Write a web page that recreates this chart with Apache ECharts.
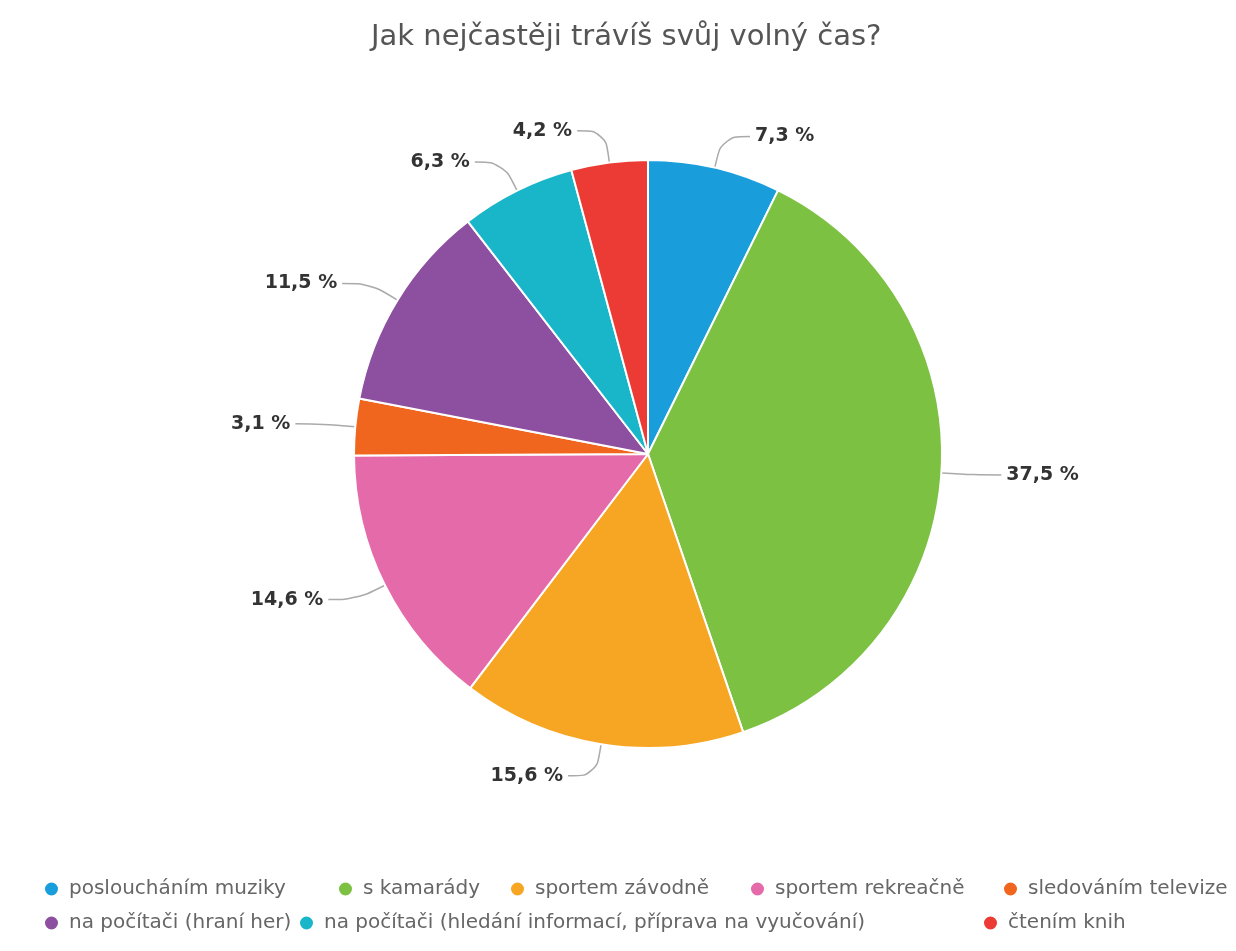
<!DOCTYPE html>
<html>
<head>
<meta charset="utf-8">
<script src="https://cdn.jsdelivr.net/npm/echarts@6/dist/echarts.min.js"></script>
<style>
  html, body { margin: 0; padding: 0; background: #fff; }
  #chart { width: 1236px; height: 951px; }
</style>
</head>
<body>
<div id="chart"></div>
<script>
// Odpovědi ankety: kategorie, podíly v procentech a barvy výsečí
const categories = [
  'posloucháním muziky',
  's kamarády',
  'sportem závodně',
  'sportem rekreačně',
  'sledováním televize',
  'na počítači (hraní her)',
  'na počítači (hledání informací, příprava na vyučování)',
  'čtením knih'
];
const shares = [7.3, 37.5, 15.6, 14.6, 3.1, 11.5, 6.3, 4.2];
const colors = ['#1a9edb', '#7cc142', '#f7a623', '#e56aa9', '#f0661f', '#8d4f9f', '#19b6c9', '#ec3b34'];

// Umístění položek legendy (levý okraj, horní okraj) ve dvou řádcích
const legendSlots = [
  [38, 874], [332, 874], [504, 874], [744, 874], [997, 874],
  [38, 908], [293, 908], [977, 908]
];

const fontFamily = '"DejaVu Sans", "Open Sans", sans-serif';

const legends = categories.map((name, i) => ({
  data: [name],
  left: legendSlots[i][0],
  top: legendSlots[i][1],
  orient: 'horizontal',
  icon: 'circle',
  itemWidth: 25,
  itemHeight: 15,
  selectedMode: false,
  textStyle: { color: '#666', fontSize: 20, fontFamily: fontFamily }
}));

const chart = echarts.init(document.getElementById('chart'));
chart.setOption({
  animation: false,
  color: colors,
  title: {
    text: 'Jak nejčastěji trávíš svůj volný čas?',
    left: 366,
    top: 18,
    textStyle: { color: '#555', fontSize: 29, fontWeight: 'normal', fontFamily: fontFamily }
  },
  legend: legends,
  series: [{
    type: 'pie',
    center: [648, 454],
    radius: 294,
    startAngle: 90,
    clockwise: true,
    data: categories.map((name, i) => ({ name: name, value: shares[i] })),
    itemStyle: { borderColor: '#fff', borderWidth: 2 },
    label: {
      show: true,
      formatter: p => p.value.toFixed(1).replace('.', ',') + ' %',
      color: '#333',
      fontSize: 19,
      fontWeight: 'bold',
      fontFamily: fontFamily
    },
    labelLine: {
      show: true,
      length: 32,
      length2: 28,
      smooth: 0.4,
      lineStyle: { color: '#aaa', width: 1.5 }
    }
  }]
});
</script>
</body>
</html>
